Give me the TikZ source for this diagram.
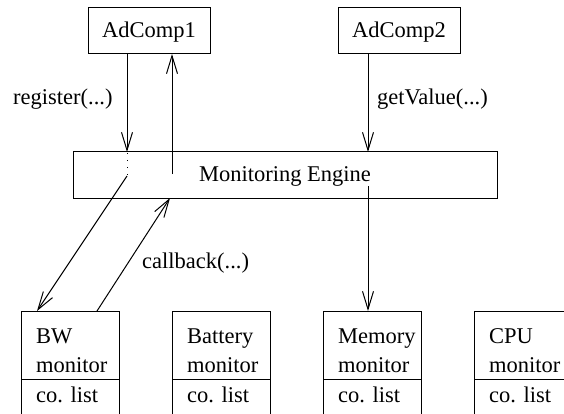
\documentclass[tikz,border=0pt]{standalone}
\usepackage{fontspec}
\setmainfont{Liberation Serif}
\usetikzlibrary{arrows.meta}
\begin{document}
\begin{tikzpicture}[x=1pt,y=-1pt,
  every node/.style={font=\fontsize{22.5}{27}\selectfont, inner sep=0pt},
  box/.style={draw, line width=1pt, rectangle, text height=16pt, text depth=2pt},
  mon/.style={draw, line width=1pt, rectangle, minimum width=98pt, minimum height=120pt, anchor=north west},
  mtext/.style={anchor=base west},
  conn/.style={line width=1pt, -{Straight Barb[length=18pt,width=11pt,line width=1pt]}},
  plain/.style={line width=1pt},
  lbl/.style={anchor=base west}]
\useasboundingbox (0,0) rectangle (564,414);
\clip (0,0) rectangle (564,414);
% top boxes
\node[box, minimum width=122pt, minimum height=46pt] (ad1) at (149,31) {AdComp1};
\node[box, minimum width=122pt, minimum height=46pt] (ad2) at (399,31) {AdComp2};
\node[box, minimum width=424pt, minimum height=46pt] (eng) at (285,175) {Monitoring Engine};
% monitors
\node[mon] (bw) at (21,311) {};
\node[mon] (bat) at (172,311) {};
\node[mon] (mem) at (323,311) {};
\node[mon] (cpu) at (474,311) {};
\foreach \m/\a/\b in {bw/BW/monitor, bat/Battery/monitor, mem/Memory/monitor, cpu/CPU/monitor}{
  \draw[plain] ([yshift=-68pt]\m.north west) -- ([yshift=-68pt]\m.north east);
  \node[mtext] at ([xshift=15pt,yshift=-32pt]\m.north west) {\a};
  \node[mtext] at ([xshift=15pt,yshift=-61pt]\m.north west) {\b};
  \node[mtext] at ([xshift=15pt,yshift=-91pt]\m.north west) {co. list};
}
% coordinates
\coordinate (r0) at (127,54);
\coordinate (r1) at (127,152);
\coordinate (r2) at (127,176);
\coordinate (u0) at (172,174);
\coordinate (u1) at (172,54);
\coordinate (c0) at (97,311);
\coordinate (c1) at (170,198);
\coordinate (g0) at (368,54);
\coordinate (g1) at (368,152);
\coordinate (m0) at (368,186);
\coordinate (m1) at (368,311);
\coordinate (b1) at (37,311);
% connectors
\draw[conn] (r0) -- (r1);
\draw[plain, dash pattern=on 1pt off 6pt] ([yshift=6pt]r1) -- (r2);
\draw[conn] (r2) -- (b1);
\draw[conn] (u0) -- (u1);
\draw[conn] (c0) -- (c1);
\draw[conn] (g0) -- (g1);
\draw[conn] (m0) -- (m1);
% labels
\node[lbl] at (13,105) {register(...)};
\node[lbl] at (377,105) {getValue(...)};
\node[lbl] at (142,268) {callback(...)};
\end{tikzpicture}
\end{document}
